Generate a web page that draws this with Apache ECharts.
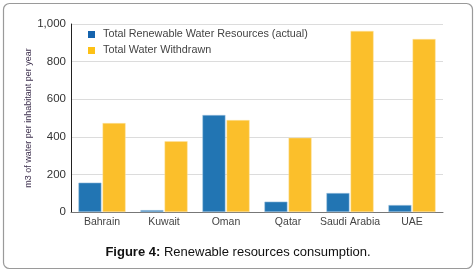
<!DOCTYPE html>
<html>
<head>
<meta charset="utf-8">
<script src="https://cdn.jsdelivr.net/npm/echarts@6/dist/echarts.min.js"></script>
<style>
  html, body { margin: 0; padding: 0; background: #fff; }
</style>
</head>
<body>
<div id="main" style="width: 476px; height: 273px"></div>
<script>
// chart data
const countries = ['Bahrain', 'Kuwait', 'Oman', 'Qatar', 'Saudi Arabia', 'UAE']
const renewable = [156, 10, 516, 55, 101, 37]
const withdrawn = [473, 376, 489, 395, 963, 920]
const seriesNames = ['Total Renewable Water Resources (actual)', 'Total Water Withdrawn']

const font = '"Liberation Sans", Arial, sans-serif'

const chart = echarts.init(document.getElementById('main'))

const option = {
  animation: false,
  textStyle: { fontFamily: font },
  title: {
    text: '{b|Figure 4:} Renewable resources consumption.',
    left: 'center',
    top: 241,
    textStyle: {
      fontFamily: font,
      fontSize: 13,
      fontWeight: 'normal',
      color: '#111',
      rich: {
        b: { fontFamily: font, fontSize: 13, fontWeight: 'bold', color: '#111' }
      }
    }
  },
  graphic: [{
    type: 'rect',
    shape: { x: 3.5, y: 3.5, width: 469, height: 265, r: 6 },
    style: { fill: 'none', stroke: '#9a9a9a', lineWidth: 1.2 },
    z: -1
  }],
  legend: {
    orient: 'vertical',
    left: 88,
    top: 29,
    padding: 0,
    itemWidth: 7,
    itemHeight: 7,
    itemGap: 5,
    icon: 'rect',
    itemStyle: { borderWidth: 0 },
    textStyle: { fontFamily: font, fontSize: 10.8, color: '#444', padding: [0, 0, 0, 3] },
    data: [
      { name: seriesNames[0], itemStyle: { color: '#1563ad' } },
      { name: seriesNames[1], itemStyle: { color: '#fdc116' } }
    ]
  },
  grid: {
    left: 71,
    right: 33,
    top: 24,
    bottom: 61
  },
  xAxis: {
    type: 'category',
    data: countries,
    axisLine: { lineStyle: { color: '#777', width: 1 } },
    axisTick: { inside: true, length: 5, lineStyle: { color: '#222' } },
    axisLabel: { interval: 0, fontFamily: font, fontSize: 10.5, color: '#444', margin: 5 }
  },
  yAxis: {
    type: 'value',
    min: 0,
    max: 1000,
    interval: 200,
    name: 'm3 of water per inhabitant per year',
    nameLocation: 'middle',
    nameGap: 38,
    nameMoveOverlap: false,
    nameTextStyle: { fontFamily: font, fontSize: 9, color: '#3d2f4d' },
    axisLine: { show: true, lineStyle: { color: '#222', width: 1 } },
    axisTick: { show: false },
    axisLabel: {
      fontFamily: font,
      fontSize: 11.5,
      color: '#333',
      margin: 5,
      formatter: v => v.toLocaleString('en-US')
    },
    splitLine: { lineStyle: { color: '#dcdcdc' } }
  },
  series: [
    {
      name: seriesNames[0],
      type: 'bar',
      data: renewable,
      barGap: '5%',
      barCategoryGap: '24%',
      itemStyle: { color: '#2275b3', borderColor: '#a9c8e2', borderWidth: 0.5 }
    },
    {
      name: seriesNames[1],
      type: 'bar',
      data: withdrawn,
      itemStyle: { color: '#fbbf2b', borderColor: '#fde3a0', borderWidth: 0.5 }
    }
  ]
}

chart.setOption(option)
</script>
</body>
</html>
